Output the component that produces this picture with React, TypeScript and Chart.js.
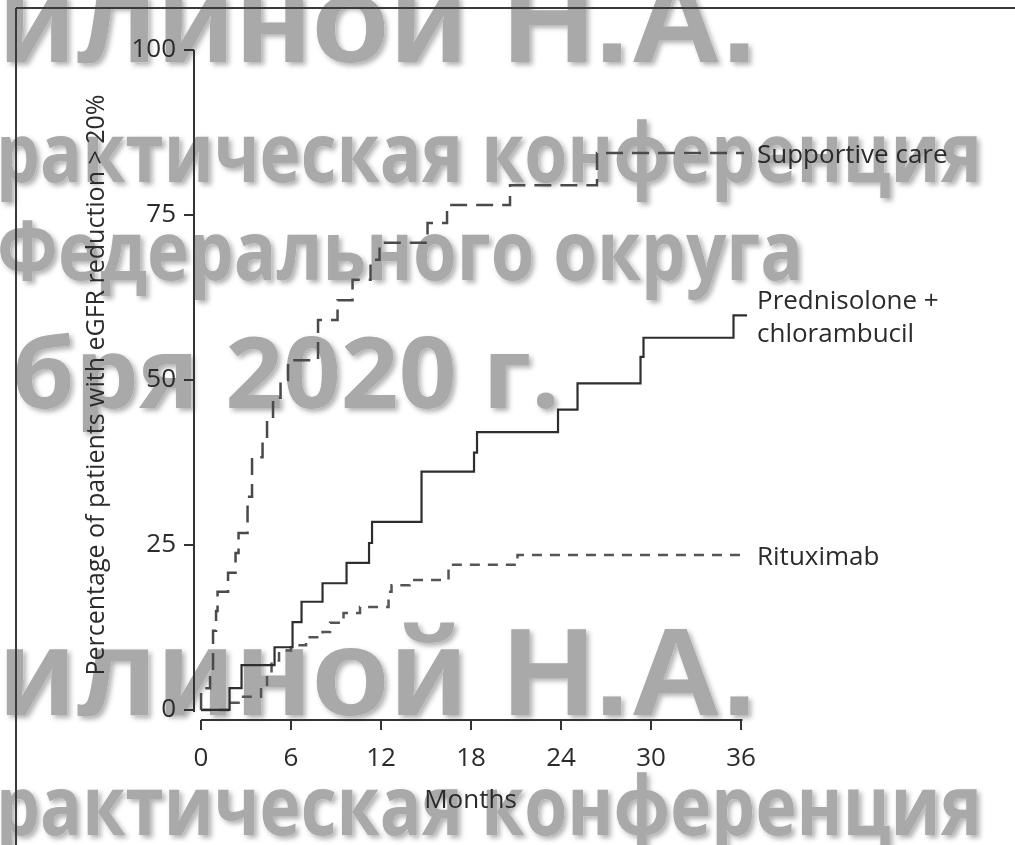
import React, { useEffect, useRef } from 'react';
import { Chart, registerables } from 'chart.js';

Chart.register(...registerables);

// ---- Data ----
const xTicks = [0, 6, 12, 18, 24, 30, 36];
const yTicks = [0, 25, 50, 75, 100];

const supportiveMonths = [0, 0, 0.6, 0.8, 1.0, 1.1, 1.8, 2.3, 2.5, 3.1, 3.4, 4.1, 4.4, 4.8, 5.3, 5.8, 7.8, 9.1, 10.1, 11.3, 11.9, 15.1, 16.4, 20.6, 26.4, 36.2];
const supportiveValues = [0, 3.3, 6.0, 12.0, 15.0, 17.9, 20.8, 23.8, 26.8, 32.3, 38.3, 41.2, 43.9, 47.3, 50.0, 53.0, 59.1, 62.1, 65.2, 68.2, 70.8, 73.8, 76.5, 79.5, 84.4, 84.4];

const predMonths = [0, 1.9, 2.7, 4.9, 6.1, 6.7, 8.1, 9.7, 11.2, 11.4, 14.7, 18.2, 18.4, 23.8, 25.1, 29.3, 29.5, 35.5, 36.4];
const predValues = [0, 3.3, 6.8, 9.5, 13.3, 16.4, 19.2, 22.3, 25.3, 28.5, 36.1, 39.0, 42.1, 45.5, 49.5, 53.5, 56.4, 59.8, 59.8];

const rituxMonths = [0, 2.0, 2.6, 4.0, 4.4, 4.7, 5.2, 6.0, 7.0, 8.1, 8.6, 9.5, 10.6, 12.5, 12.7, 13.9, 16.5, 21.1, 36.3];
const rituxValues = [0, 1.1, 2.0, 3.5, 5.5, 7.5, 9.0, 9.8, 11.0, 11.8, 13.2, 14.7, 15.6, 17.9, 18.9, 19.7, 22.0, 23.5, 23.5];

const seriesLabels = [['Supportive care'], ['Prednisolone +', 'chlorambucil'], ['Rituximab']];

const yTitle = 'Percentage of patients with eGFR reduction > 20%';
const xTitle = 'Months';

const watermarkTexts = ['илиной Н.А.', 'рактическая конференция', 'Федерального округа', 'бря 2020 г.'];

const FONT = '"Open Sans", "DejaVu Sans", sans-serif';

const toPoints = (xs: number[], ys: number[]) => xs.map((x, i) => ({ x, y: ys[i] }));

const endLabels = {
  id: 'endLabels',
  afterDatasetsDraw(chart: any) {
    const { ctx, chartArea } = chart;
    ctx.save();
    ctx.fillStyle = '#2b2b2b';
    ctx.font = `26px ${FONT}`;
    ctx.textAlign = 'left';
    ctx.textBaseline = 'middle';
    chart.data.datasets.forEach((ds: any, i: number) => {
      const meta = chart.getDatasetMeta(i);
      const last = meta.data[meta.data.length - 1];
      const lines = seriesLabels[i];
      lines.forEach((t, j) => {
        const off = (j - (lines.length - 1) / 2) * 33 + 3;
        ctx.fillText(t, chartArea.right + 10, last.y + off);
      });
    });
    ctx.restore();
  },
};

const axisLines = {
  id: 'axisLines',
  afterDraw(chart: any) {
    const { ctx, chartArea, scales } = chart;
    const xs = scales.x;
    const ys = scales.y;
    ctx.save();
    ctx.strokeStyle = '#333';
    ctx.lineWidth = 2;
    ctx.beginPath();
    ctx.moveTo(chartArea.left, ys.getPixelForValue(100));
    ctx.lineTo(chartArea.left, ys.getPixelForValue(-0.3));
    ctx.moveTo(xs.getPixelForValue(0), chartArea.bottom);
    ctx.lineTo(xs.getPixelForValue(36.1), chartArea.bottom);
    ctx.stroke();
    ctx.restore();
  },
};

function Watermark() {
  const rowA = { fontFamily: '"Liberation Sans", Arial, sans-serif', fontWeight: 700, fontSize: 125 };
  const rowB = { fontFamily: FONT, fontWeight: 700, fontSize: 83 };
  const rowD = { fontFamily: FONT, fontWeight: 700, fontSize: 98 };
  return (
    <svg width={1015} height={845} style={{ position: 'absolute', left: 0, top: 0 }}>
      <defs>
        <filter id="wmShadow" x="-5%" y="-20%" width="110%" height="150%">
          <feDropShadow dx="3" dy="3" stdDeviation="2.5" floodColor="#000" floodOpacity="0.3" />
        </filter>
      </defs>
      <g fill="#a9a9a9" filter="url(#wmShadow)">
        <text x={-2} y={62} textLength={759} lengthAdjust="spacingAndGlyphs" style={rowA}>{watermarkTexts[0]}</text>
        <text x={-4} y={182} textLength={986} lengthAdjust="spacingAndGlyphs" style={rowB}>{watermarkTexts[1]}</text>
        <text x={-3} y={280} textLength={806} lengthAdjust="spacingAndGlyphs" style={rowB}>{watermarkTexts[2]}</text>
        <text x={12} y={408} textLength={548} lengthAdjust="spacingAndGlyphs" style={rowD}>{watermarkTexts[3]}</text>
        <text x={-2} y={715} textLength={759} lengthAdjust="spacingAndGlyphs" style={rowA}>{watermarkTexts[0]}</text>
        <text x={-4} y={835} textLength={986} lengthAdjust="spacingAndGlyphs" style={rowB}>{watermarkTexts[1]}</text>
      </g>
      <line x1={16} y1={8} x2={1015} y2={8} stroke="#3a3a3a" strokeWidth={2} />
      <line x1={16} y1={8} x2={16} y2={845} stroke="#3a3a3a" strokeWidth={2} />
    </svg>
  );
}

export default function App() {
  const canvasRef = useRef<HTMLCanvasElement | null>(null);

  useEffect(() => {
    if (!canvasRef.current) return;
    const chart = new Chart(canvasRef.current, {
      type: 'line',
      data: {
        datasets: [
          {
            label: 'Supportive care',
            data: toPoints(supportiveMonths, supportiveValues),
            borderColor: '#4a4a4a',
            borderWidth: 2.5,
            borderDash: [17, 9],
            stepped: true,
            pointRadius: 0,
            fill: false,
          },
          {
            label: 'Prednisolone + chlorambucil',
            data: toPoints(predMonths, predValues),
            borderColor: '#2e2e2e',
            borderWidth: 2.2,
            stepped: true,
            pointRadius: 0,
            fill: false,
          },
          {
            label: 'Rituximab',
            data: toPoints(rituxMonths, rituxValues),
            borderColor: '#555',
            borderWidth: 2.5,
            borderDash: [10, 8],
            stepped: true,
            pointRadius: 0,
            fill: false,
          },
        ],
      },
      options: {
        animation: false,
        responsive: false,
        devicePixelRatio: 1,
        clip: false as any,
        layout: { padding: { left: 0, top: 50, right: 268, bottom: 0 } },
        plugins: { legend: { display: false }, tooltip: { enabled: false }, title: { display: false } },
        scales: {
          x: {
            type: 'linear',
            min: -0.47,
            max: 36.4,
            afterBuildTicks: (axis: any) => {
              axis.ticks = xTicks.map((v) => ({ value: v }));
            },
            afterFit: (scale: any) => {
              scale.height = 125;
            },
            grid: { display: true, drawOnChartArea: false, drawTicks: true, tickLength: 10, color: '#333', lineWidth: 2 },
            border: { display: false },
            ticks: { color: '#2b2b2b', font: { family: FONT, size: 26 }, padding: 13, maxRotation: 0, autoSkip: false },
            title: { display: true, text: xTitle, color: '#2b2b2b', font: { family: FONT, size: 26 }, padding: { top: 0, bottom: 29 } },
          },
          y: {
            type: 'linear',
            min: -1.52,
            max: 100,
            afterBuildTicks: (axis: any) => {
              axis.ticks = yTicks.map((v) => ({ value: v }));
            },
            afterFit: (scale: any) => {
              scale.width = 194;
            },
            grid: { display: true, drawOnChartArea: false, drawTicks: true, tickLength: 10, color: '#333', lineWidth: 2 },
            border: { display: false },
            ticks: { color: '#2b2b2b', font: { family: FONT, size: 26 }, padding: 8, autoSkip: false },
            title: { display: true, text: yTitle, color: '#2b2b2b', font: { family: FONT, size: 25 }, padding: { top: 82, bottom: 0 } },
          },
        },
      },
      plugins: [endLabels, axisLines],
    });
    return () => chart.destroy();
  }, []);

  return (
    <div style={{ position: 'fixed', left: 0, top: 0, width: 1015, height: 845, background: '#fff', overflow: 'hidden' }}>
      <Watermark />
      <canvas ref={canvasRef} width={1015} height={845} style={{ position: 'absolute', left: 0, top: 0, width: 1015, height: 845 }} />
    </div>
  );
}
